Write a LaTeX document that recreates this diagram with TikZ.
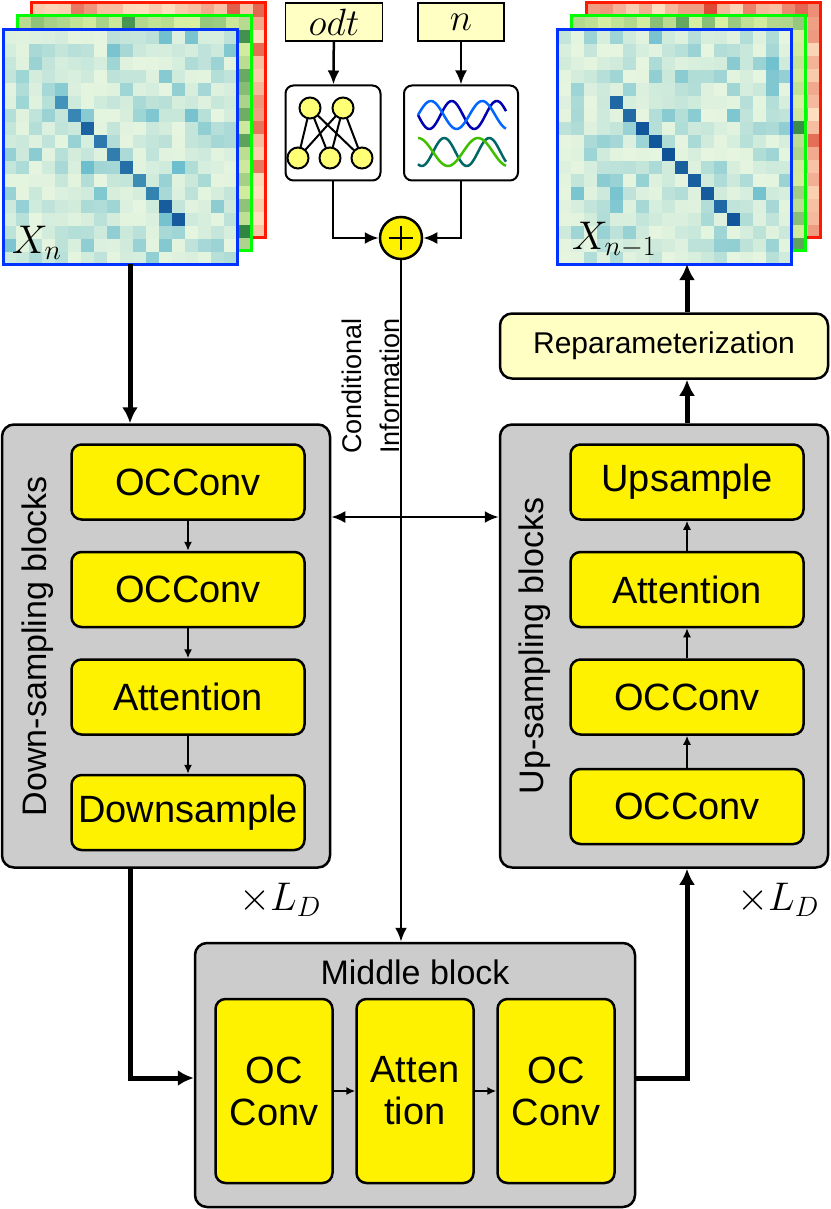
\RequirePackage{fix-cm}
\documentclass[tikz,border=0pt]{standalone}
\usepackage{fontspec}
\setmainfont{Liberation Sans}
\usetikzlibrary{positioning,arrows.meta}
\definecolor{gnlo}{HTML}{E6F5DF}
\definecolor{gnmid}{HTML}{5FB8CC}
\definecolor{gnhi}{HTML}{084A94}
\definecolor{grlo}{HTML}{D9F0A3}
\definecolor{grhi}{HTML}{1B7837}
\definecolor{rdlo}{HTML}{FEE0C0}
\definecolor{rdhi}{HTML}{D7301F}
\definecolor{paleyel}{HTML}{FFFFC4}
\definecolor{blockgray}{HTML}{CCCCCC}
% one heat map: x, y of the top left corner, low and high colour, diagonal on/off, diagonal noise
\newcommand\heatmap[6]{%
  \foreach \j in {0,...,17}{
    \foreach \i in {0,...,17}{
      \pgfmathsetmacro\p{int(rnd*rnd*95)}
      \fill[#4!\p!#3] (#1+13*\i,#2+13*\j) rectangle ++(13,13);
    }
  }
  \ifnum#5>0
  \foreach \j in {5,...,14}{
    \pgfmathsetmacro\q{int(100-rnd*#6)}
    \pgfmathsetmacro\k{\j-1}
    \fill[gnhi!\q!gnmid] (#1+13*\k,#2+13*\j) rectangle ++(13,13);
  }
  \fi
}
\tikzset{
  blk/.style={draw, line width=2.5pt, rounded corners=12pt, fill=blockgray},
  op/.style={draw, line width=2.5pt, rounded corners=10pt, fill=yellow,
    minimum width=233pt, minimum height=75pt, font=\fontsize{38}{42}\selectfont},
  mop/.style={op, minimum width=117pt, minimum height=184pt, align=center},
  inp/.style={draw, line width=1.5pt, fill=paleyel, minimum height=38pt,
    font=\fontsize{38}{40}\selectfont},
  icon/.style={draw, line width=2pt, rounded corners=8pt, fill=white,
    minimum width=95pt, minimum height=95pt},
  big/.style={line width=5pt, -{Latex[length=16pt,width=16pt]}},
  mid/.style={line width=2.5pt, -{Latex[length=14pt,width=12pt]}},
  small/.style={line width=1.5pt, -{Latex[length=9pt,width=8pt]}},
  lbl/.style={font=\fontsize{34}{38}\selectfont},
}
\begin{document}
\begin{tikzpicture}[x=1pt,y=-1pt]
\useasboundingbox (0,0) rectangle (830,1209);
\pgfmathsetseed{7}
% input stack X_n
\heatmap{32}{4}{rdlo}{rdhi}{0}{0}
\draw[line width=3pt, red!80!orange] (31,3) rectangle (265,237);
\heatmap{18}{17}{grlo}{grhi}{0}{0}
\draw[line width=3pt, green] (17,16) rectangle (251,250);
\heatmap{3}{31}{gnlo}{gnmid}{1}{80}
\draw[line width=3pt, blue!80!cyan] (3,30) rectangle (237,264);
\node[anchor=south west, inner sep=0pt, font=\fontsize{40}{42}\selectfont] (xn) at (12,260) {$X_n$};
\coordinate (xnb) at (130,264);
% output stack X_{n-1}
\heatmap{587}{4}{rdlo}{rdhi}{0}{0}
\draw[line width=3pt, red!80!orange] (586,3) rectangle (820,237);
\heatmap{572}{17}{grlo}{grhi}{0}{0}
\draw[line width=3pt, green] (571,16) rectangle (805,250);
\heatmap{558}{31}{gnlo}{gnmid}{1}{30}
\draw[line width=3pt, blue!80!cyan] (557,30) rectangle (791,264);
\node[anchor=south west, inner sep=0pt, font=\fontsize{40}{42}\selectfont] (xo) at (572,258) {$X_{n-1}$};
\coordinate (xob) at (687,264);
% conditioning
\node[inp, minimum width=97pt] (odt) at (334,22) {$odt$};
\node[inp, minimum width=86pt] (nin) at (461,22) {$n$};
\node[icon] (nn) at (333,133) {};
\node[icon, minimum width=114pt] (wave) at (461,133) {};
\foreach \a/\ax in {t1/310,t2/343}
  \coordinate (\a) at (\ax,108);
\foreach \b/\bx in {b1/298,b2/330,b3/362}
  \coordinate (\b) at (\bx,158);
\foreach \a in {t1,t2}
  \foreach \b in {b1,b2,b3}
    \draw[line width=2pt] (\a) -- (\b);
\foreach \c in {t1,t2,b1,b2,b3}
  \fill[draw=black, line width=2pt, fill=paleyel!60!yellow] (\c) circle (10.5);
\draw[line width=2.5pt, blue!70!black, domain=418:506, samples=60] plot (\x,{115+14*sin(8*(\x-418))});
\draw[line width=2.5pt, blue!60!cyan, domain=418:506, samples=60] plot (\x,{115-14*sin(7*(\x-418))});
\draw[line width=2.5pt, teal!80!black, domain=418:506, samples=60] plot (\x,{152+14*sin(8*(\x-418)+60)});
\draw[line width=2.5pt, green!50!olive, domain=418:506, samples=60] plot (\x,{152-14*cos(6*(\x-418))});
\node[draw, circle, line width=2.5pt, fill=yellow, minimum size=42pt, inner sep=0pt] (plus) at (401,238) {};
\draw[line width=2pt] (389,238) -- (413,238) (401,226) -- (401,250);
\draw[mid] (odt) -- (nn);
\draw[mid] (nin) -- (wave);
\draw[mid] (nn.south) |- (plus.west);
\draw[mid] (wave.south) |- (plus.east);
\node[rotate=90, align=center, font=\fontsize{27}{38}\selectfont] (cond) at (371,386) {Conditional\\Information};
% down-sampling blocks
\node[blk, minimum width=328pt, minimum height=443pt] (down) at (166,646) {};
\node[op] (d1) at (188,482) {OCConv};
\node[op, below=30pt of d1] (d2) {OCConv};
\node[op, below=30pt of d2] (d3) {Attention};
\node[op, below=38pt of d3] (d4) {Downsample};
\node[lbl, rotate=90] (dlab) at (38,646) {Down-sampling blocks};
\draw[small] (d1) -- (d2);
\draw[small] (d2) -- (d3);
\draw[small] (d3) -- (d4);
\node[font=\fontsize{40}{42}\selectfont] (ld1) at (280,900) {$\times L_D$};
% up-sampling blocks
\node[blk, minimum width=328pt, minimum height=443pt] (up) at (664,646) {};
\node[op] (u1) at (687,482) {Upsample};
\node[op, below=30pt of u1] (u2) {Attention};
\node[op, below=30pt of u2] (u3) {OCConv};
\node[op, below=32pt of u3] (u4) {OCConv};
\node[lbl, rotate=90] (ulab) at (535,646) {Up-sampling blocks};
\draw[small] (u4) -- (u3);
\draw[small] (u3) -- (u2);
\draw[small] (u2) -- (u1);
\node[font=\fontsize{40}{42}\selectfont] (ld2) at (778,900) {$\times L_D$};
\node[draw, line width=2.5pt, rounded corners=12pt, fill=paleyel, minimum width=328pt,
  minimum height=65pt, font=\fontsize{30}{32}\selectfont] (rep) at (664,346) {Reparameterization};
% middle block
\node[blk, minimum width=440pt, minimum height=264pt] (midb) at (415,1075) {};
\node[lbl] (mtitle) at (415,972) {Middle block};
\node[mop] (m1) at (274,1091) {OC\\Conv};
\node[mop] (m2) at (415,1091) {Atten\\tion};
\node[mop] (m3) at (556,1091) {OC\\Conv};
\draw[small] (m1) -- (m2);
\draw[small] (m2) -- (m3);
% main flow
\draw[big] (xnb) -- (xnb |- down.north);
\draw[big] (down.south -| xnb) |- (midb.west |- 0,1078);
\draw[big] (midb.east |- 0,1078) -| (up.south -| xob);
\draw[big] (up.north -| xob) -- (rep.south -| xob);
\draw[big] (rep.north -| xob) -- (xob);
\draw[mid] (plus.south) -- (plus.south |- midb.north);
\draw[line width=2.5pt, {Latex[length=14pt,width=12pt]}-{Latex[length=14pt,width=12pt]}] (down.east |- 0,517) -- (up.west |- 0,517);
\end{tikzpicture}
\end{document}
